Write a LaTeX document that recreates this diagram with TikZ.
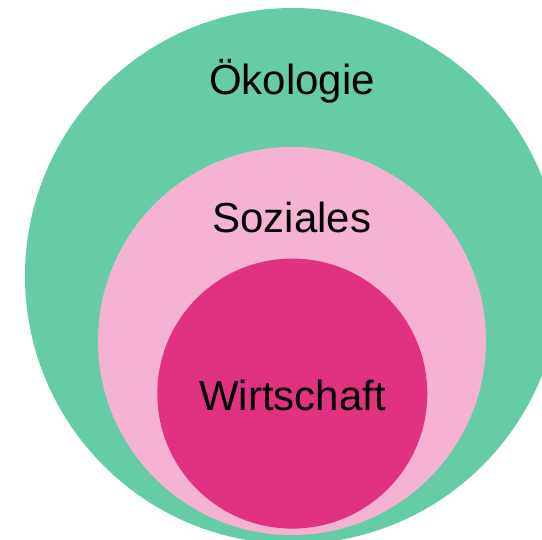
\documentclass[tikz,border=0pt]{standalone}
\usepackage{fontspec}
\setmainfont{Liberation Sans}
\definecolor{oeko}{RGB}{102,204,166}
\definecolor{sozial}{RGB}{246,178,210}
\definecolor{wirt}{RGB}{224,50,128}
\tikzset{
  ring/.style={circle, inner sep=0pt, draw=none},
  label text/.style={anchor=base, inner sep=0pt, font=\fontsize{42}{50}\selectfont, text=black}
}
\begin{document}
\begin{tikzpicture}[x=1pt,y=-1pt]
\useasboundingbox (0,0) rectangle (542,540);
\clip (0,0) rectangle (542,540);
\fill[white] (0,0) rectangle (542,540);
\node[ring, fill=oeko, minimum size=536pt] (oeko) at (293,276) {};
\node[ring, fill=sozial, minimum size=388pt] (sozial) at (292,341) {};
\node[ring, fill=wirt, minimum size=270pt] (wirt) at (292.3,393.6) {};
\node[label text] (toeko) at (292,95) {Ökologie};
\node[label text] (tsozial) at (292,233) {Soziales};
\node[label text] (twirt) at (292.5,410.5) {Wirtschaft};
\end{tikzpicture}
\end{document}
